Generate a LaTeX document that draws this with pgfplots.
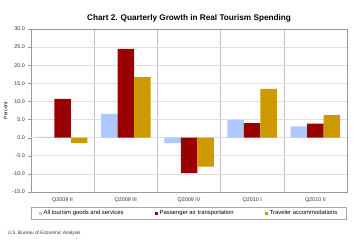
\documentclass[border=0pt]{standalone}
\usepackage{pgfplots}
\pgfplotsset{compat=1.18}
\usepackage{fontspec}
\setmainfont{Liberation Sans}
\definecolor{allblue}{RGB}{175,200,255}
\definecolor{airred}{RGB}{153,0,0}
\definecolor{accgold}{RGB}{204,153,0}
\begin{document}
\begin{tikzpicture}[x=1pt,y=1pt]
\useasboundingbox (0,0) rectangle (355,241);
\begin{axis}[at={(31pt,49pt)}, anchor=south west,
  width=316pt, height=163pt, scale only axis,
  ybar=0pt, bar width=16.5pt,
  xmin=-0.5, xmax=4.5, ymin=-15, ymax=30,
  xtick={0,1,2,3,4},
  xticklabels={Q2009 II,Q2009 III,Q2009 IV,Q2010 I,Q2010 II},
  minor xtick={0.5,1.5,2.5,3.5},
  xminorgrids, minor grid style={gray!50, line width=0.5pt},
  major x tick style={draw=none}, minor x tick style={draw=none},
  ytick={-15,-10,...,30},
  tick align=outside, ytick pos=left, major tick length=2.5pt,
  ymajorgrids, major grid style={gray!25, line width=0.6pt},
  yticklabel={\pgfmathprintnumber[fixed,fixed zerofill,precision=1]{\tick}},
  /pgf/number format/assume math mode=true,
  ticklabel style={font=\fontsize{5.4}{6}\selectfont, text=black!80},
  ylabel={Percent},
  ylabel style={font=\fontsize{5}{6}\selectfont, at={(axis description cs:-0.08,0.5)}, anchor=center},
  axis line style={gray!80, line width=0.6pt},
  tick style={gray!80},
  title={\textbf{Chart 2. Quarterly Growth in Real Tourism Spending}},
  title style={font=\fontsize{8.2}{9}\selectfont, yshift=-3pt},
  legend columns=3,
  legend style={at={(0.5,-0.13)}, anchor=center, draw=gray!70,
    font=\fontsize{5.9}{6.5}\selectfont, inner ysep=1pt, inner xsep=7pt,
    /tikz/every even column/.append style={column sep=29pt}},
  legend image code/.code={\fill[#1] (0pt,-1.5pt) rectangle (3pt,1.5pt);},
  extra y ticks={0}, extra y tick labels={},
  extra y tick style={grid style={gray!70, line width=0.7pt}},
]
\addplot[fill=allblue, draw=none] coordinates {(0,0.2) (1,6.6) (2,-1.5) (3,4.9) (4,3.1)};
\addplot[fill=airred, draw=none] coordinates {(0,10.7) (1,24.5) (2,-9.8) (3,4.0) (4,3.9)};
\addplot[fill=accgold, draw=none] coordinates {(0,-1.5) (1,16.7) (2,-8.0) (3,13.5) (4,6.2)};
\legend{All tourism goods and services, Passenger air transportation, Traveler accommodations}
\end{axis}
\node[anchor=west, font=\fontsize{4.8}{6}\selectfont, text=black!80] at (4,8) {U.S. Bureau of Economic Analysis};
\end{tikzpicture}
\end{document}
